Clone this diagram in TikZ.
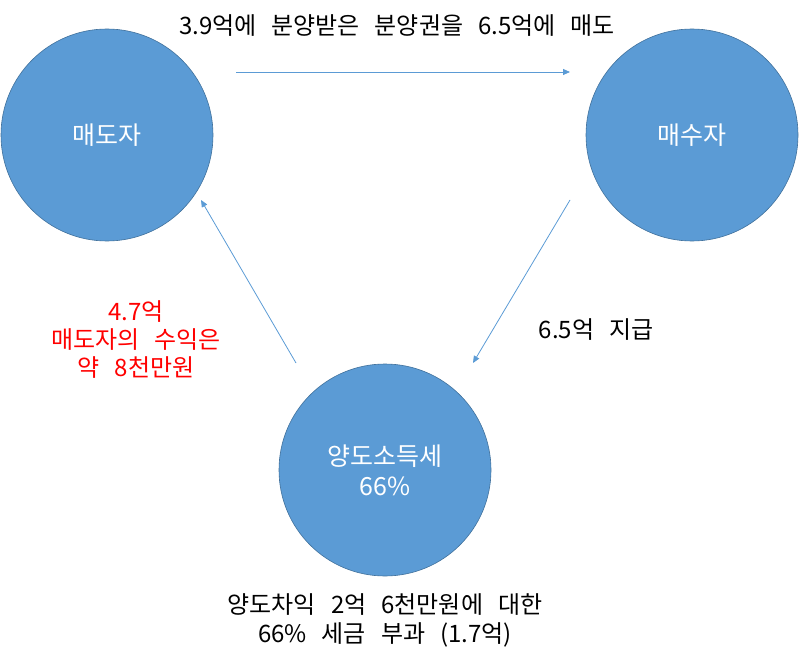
\documentclass[tikz,border=0pt]{standalone}
\usepackage{fontspec}
\setmainfont[WordSpace=2.8]{Noto Sans CJK KR}
\usepackage{xcolor}
\definecolor{colCircle}{HTML}{5B9BD5}
\definecolor{colCircleLine}{HTML}{41719C}
\usepackage{tikz}
\usetikzlibrary{arrows.meta, positioning, calc}
\newcommand\tightlines{\lineskiplimit=-50pt\relax}

\begin{document}
\begin{tikzpicture}[x=1pt, y=-1pt,
    party/.style={circle, fill=colCircle, draw=colCircleLine, line width=0.6pt,
      minimum size=212pt, inner sep=0pt, text=white, align=center,
      font={\fontsize{25}{30}\selectfont\tightlines}},
    flow/.style={-{Triangle[length=7pt, width=6pt]}, colCircle, line width=0.8pt},
    note/.style={align=center, font={\fontsize{24}{29}\selectfont\tightlines}}]
  \useasboundingbox (0,0) rectangle (799,663);

  % the three parties
  \node[party] (seller) at (107,135) {매도자};
  \node[party] (buyer) at (692,135) {매수자};
  \node[party] (tax) at (385,470) {양도소득세\\66\%};

  % connector ends
  \coordinate (s1) at ($(seller.center)+(129,-63)$);
  \coordinate (b1) at ($(buyer.center)+(-122,-63)$);
  \coordinate (b2) at ($(buyer.center)+(-122,65)$);
  \coordinate (t1) at ($(tax.center)+(88,-107)$);
  \coordinate (t2) at ($(tax.center)+(-89,-107)$);
  \coordinate (s2) at ($(seller.center)+(94,65)$);

  \draw[flow] (s1) -- (b1);
  \draw[flow] (b2) -- (t1);
  \draw[flow] (t2) -- (s2);

  % labels
  \node[note] (sale) at (397,26) {3.9억에 분양받은 분양권을 6.5억에 매도};
  \node[note] (pay) at (596,330) {6.5억 지급};
  \node[note, text=red, font={\fontsize{24}{28}\selectfont\tightlines}] (profit) at (136,340) {4.7억\\매도자의 수익은\\약 8천만원};
  \node[note] (levy) at (385,620) {양도차익 2억 6천만원에 대한\\66\% 세금 부과 (1.7억)};
\end{tikzpicture}
\end{document}
